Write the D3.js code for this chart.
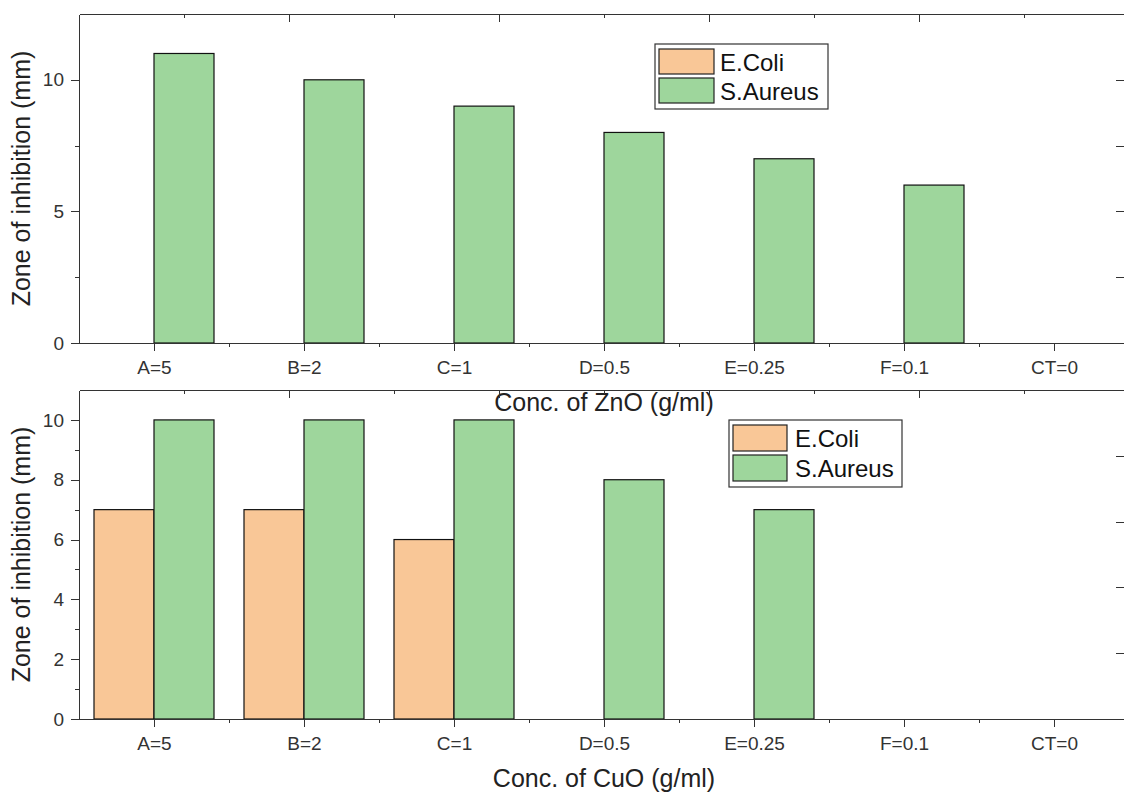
<!DOCTYPE html>
<html>
<head>
<meta charset="utf-8">
<script src="https://cdn.jsdelivr.net/npm/d3@7"></script>
<style>
  html, body { margin: 0; padding: 0; background: #fff; }
  svg { display: block; font-family: "Liberation Sans", Arial, sans-serif; }
  .axis path, .axis line { stroke: #333; stroke-width: 1; shape-rendering: crispEdges; }
  .axis text { fill: #333; font-family: "Liberation Sans", Arial, sans-serif; }
</style>
</head>
<body>
<svg id="chart" width="1124" height="793"></svg>
<script>
// ---------- data ----------
const categories = ["A=5", "B=2", "C=1", "D=0.5", "E=0.25", "F=0.1", "CT=0"];
const seriesNames = ["E.Coli", "S.Aureus"];
const znoEColi   = [0, 0, 0, 0, 0, 0, 0];
const znoSAureus = [11, 10, 9, 8, 7, 6, 0];
const cuoEColi   = [7, 7, 6, 0, 0, 0, 0];
const cuoSAureus = [10, 10, 10, 8, 7, 0, 0];
const znoYMajor = [0, 5, 10];
const znoYMinor = [2.5, 7.5];
const cuoYMajor = [0, 2, 4, 6, 8, 10];
const cuoYMinor = [1, 3, 5, 7, 9];
const xTitles = ["Conc. of ZnO (g/ml)", "Conc. of CuO (g/ml)"];
const yTitle = "Zone of inhibition (mm)";

// ---------- styling ----------
const colors = ["#F9C797", "#9ED69C"];
const svg = d3.select("#chart");
const left = 79, right = 1129;

const panels = [
  { top: 14, bottom: 343, yMax: 12.5, major: znoYMajor, minor: znoYMinor,
    values: [znoEColi, znoSAureus], title: xTitles[0],
    legend: { x: 655, y: 44, w: 173, row: 29, sw: 55, sh: 25, tx: 65 } },
  { top: 390, bottom: 719, yMax: 11, major: cuoYMajor, minor: cuoYMinor,
    values: [cuoEColi, cuoSAureus], title: xTitles[1],
    legend: { x: 729, y: 420, w: 173, row: 30, sw: 54, sh: 26, tx: 66 } }
];

const x = d3.scaleLinear().domain([0.5, categories.length + 0.5]).range([left, right]);
const barW = 0.4;

panels.forEach(p => {
  const g = svg.append("g");
  const y = d3.scaleLinear().domain([0, p.yMax]).range([p.bottom, p.top]);

  // bars
  p.values.forEach((vals, si) => {
    g.selectAll(null)
      .data(vals.map((v, i) => ({ v, i })).filter(d => d.v > 0))
      .enter().append("rect")
      .attr("x", d => x(d.i + 1 + (si === 0 ? -barW : 0)))
      .attr("width", d => x(d.i + 1 + barW) - x(d.i + 1))
      .attr("y", d => y(d.v))
      .attr("height", d => y(0) - y(d.v))
      .attr("fill", colors[si])
      .attr("stroke", "#111")
      .attr("stroke-width", 1.2);
  });

  // top frame with inward ticks (linear mirror axis)
  const xTop = d3.scaleLinear().domain([0, 10]).range([left, right]);
  g.append("g").attr("class", "axis").attr("transform", `translate(0,${p.top})`)
    .call(d3.axisBottom(xTop).tickValues([2, 4, 6, 8]).tickSize(8).tickSizeOuter(0).tickFormat(""))
    .select(".domain").attr("stroke", "#666");
  g.append("g").attr("class", "axis").attr("transform", `translate(0,${p.top})`)
    .call(d3.axisBottom(xTop).tickValues([1, 3, 5, 7, 9]).tickSize(4).tickSizeOuter(0).tickFormat(""))
    .select(".domain").remove();

  // right mirror axis ticks (inward)
  const yRight = d3.scaleLinear().domain([0, 5]).range([p.bottom, p.top]);
  g.append("g").attr("class", "axis").attr("transform", `translate(${right},0)`)
    .call(d3.axisLeft(yRight).tickValues([1, 2, 3, 4]).tickSize(13).tickSizeOuter(0).tickFormat(""));

  // bottom axis: major at categories, minor at boundaries
  const xb = g.append("g").attr("class", "axis").attr("transform", `translate(0,${p.bottom})`)
    .call(d3.axisBottom(x).tickValues(d3.range(1, categories.length + 1))
      .tickFormat(d => categories[d - 1]).tickSize(8).tickSizeOuter(0).tickPadding(10));
  xb.selectAll("text").style("font-size", "19px");
  g.append("g").attr("class", "axis").attr("transform", `translate(0,${p.bottom})`)
    .call(d3.axisBottom(x).tickValues(d3.range(1.5, categories.length, 1))
      .tickFormat("").tickSize(4).tickSizeOuter(0))
    .select(".domain").remove();

  // left axis
  const yl = g.append("g").attr("class", "axis").attr("transform", `translate(${left},0)`)
    .call(d3.axisLeft(y).tickValues(p.major).tickSize(8).tickSizeOuter(0).tickPadding(7));
  yl.selectAll("text").style("font-size", "19px");
  g.append("g").attr("class", "axis").attr("transform", `translate(${left},0)`)
    .call(d3.axisLeft(y).tickValues(p.minor).tickSize(4).tickSizeOuter(0).tickFormat(""))
    .select(".domain").remove();

  // titles
  g.append("text")
    .attr("x", (left + right) / 2).attr("y", p.bottom + 68)
    .attr("text-anchor", "middle").attr("fill", "#222")
    .style("font-size", "25px").text(p.title);
  g.append("text")
    .attr("transform", `translate(30,${(p.top + p.bottom) / 2}) rotate(-90)`)
    .attr("text-anchor", "middle").attr("fill", "#222")
    .style("font-size", "25px").text(yTitle);

  // legend
  const L = p.legend;
  const lg = g.append("g").attr("transform", `translate(${L.x},${L.y})`);
  lg.append("rect").attr("width", L.w).attr("height", L.row * seriesNames.length + 7)
    .attr("fill", "#fff").attr("stroke", "#333").attr("stroke-width", 1.2);
  seriesNames.forEach((name, i) => {
    lg.append("rect")
      .attr("x", 4).attr("y", 5 + i * L.row)
      .attr("width", L.sw).attr("height", L.sh)
      .attr("fill", colors[i]).attr("stroke", "#222").attr("stroke-width", 1.2);
    lg.append("text")
      .attr("x", L.tx).attr("y", 5 + i * L.row + L.sh / 2 + 9)
      .attr("fill", "#111").style("font-size", "24px").text(name);
  });
});
</script>
</body>
</html>
